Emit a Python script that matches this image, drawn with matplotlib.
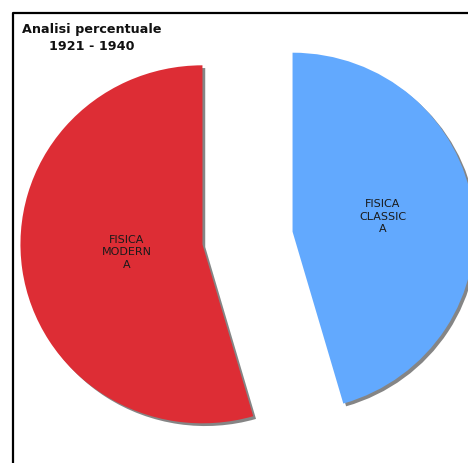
import numpy as np
import matplotlib.pyplot as plt
from matplotlib.lines import Line2D

# quote percentuali 1921 - 1940
labels = ["FISICA\nMODERN\nA", "FISICA\nCLASSIC\nA"]
shares = [54.5, 45.5]
colors = ["#dd2d35", "#62a9fe"]
label_dist = [0.42, 0.50]

W, H = 468, 464
RX_PX, RY_PX = 182.0, 179.0
CX, CY = 247.5, 239.0

fig = plt.figure(figsize=(W / 100, H / 100), dpi=100)
ax = fig.add_axes([0, 0, 1, 1])

wedges, _ = ax.pie(shares, colors=colors, startangle=90, counterclock=True,
                   explode=[0.25, 0.25], radius=1.0,
                   wedgeprops=dict(linewidth=0),
                   shadow=dict(ox=0.011, oy=-0.011, facecolor="#858585",
                               edgecolor="#858585", alpha=1.0))

for w, lab, d in zip(wedges, labels, label_dist):
    mid = np.deg2rad((w.theta1 + w.theta2) / 2)
    x0, y0 = w.center
    ax.text(x0 + d * w.r * np.cos(mid), y0 + d * w.r * np.sin(mid) + 0.02, lab,
            ha="center", va="center", multialignment="center",
            fontsize=8, color="#1a1a1a", linespacing=1.3)

ax.set_xlim(-CX / RX_PX, (W - CX) / RX_PX)
ax.set_ylim(-(H - CY) / RY_PX, CY / RY_PX)
ax.set_aspect("auto")
ax.axis("off")

# cornice (solo lati alto e sinistro visibili)
fx, fy = 12.5 / W, 1 - 13.5 / H
fig.add_artist(Line2D([fx, fx, 1.0], [0.0, fy, fy], transform=fig.transFigure,
                      color="black", linewidth=1.6))

fig.text(22 / W, 1 - 23 / H, "Analisi percentuale\n1921 - 1940",
         ha="left", va="top", multialignment="center",
         fontsize=9.2, fontweight="bold", color="#111111", linespacing=1.35)

fig.savefig("out.png", dpi=100)
